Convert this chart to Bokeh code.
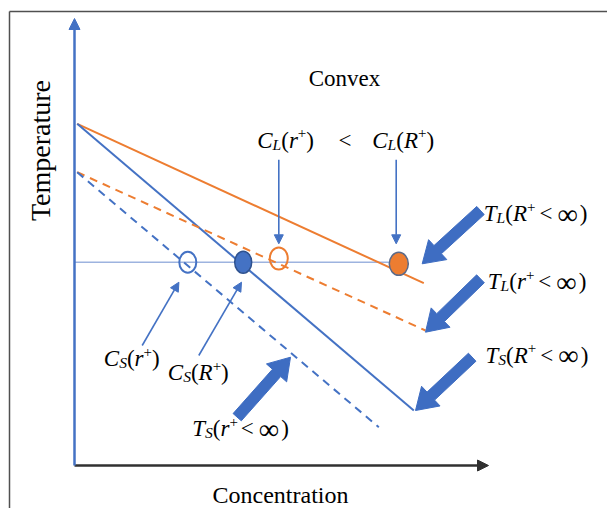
import numpy as np
from bokeh.plotting import figure
from bokeh.models import Range1d, Arrow, NormalHead
from bokeh.core.properties import value
from bokeh.embed import file_html
from bokeh.resources import INLINE

# ---------------- data (concentration, temperature) in chart units ----------------
# liquidus / solidus lines
tl_big_x = [2.7, 349.3];   tl_big_y = [341.7, 182.3]    # T_L(R+ < inf)  solid orange
ts_big_x = [2.7, 339.3];   ts_big_y = [341.7, 55.0]     # T_S(R+ < inf)  solid blue
tl_small_x = [2.7, 351.0]; tl_small_y = [293.3, 135.0]  # T_L(r+ < inf)  dashed orange
ts_small_x = [2.7, 304.3]; ts_small_y = [293.3, 38.3]   # T_S(r+ < inf)  dashed blue
tie_x = [0.0, 324.3];      tie_y = [203.3, 203.3]       # isotherm

# composition points on the isotherm
pt_x = [113.3, 168.7, 204.3, 324.3]
pt_y = [203.3, 203.3, 207.0, 201.7]
pt_fill = ["open_blue", "blue", "open_orange", "orange"]

# thin pointer arrows (start -> end)
thin_x0 = [204.3, 321.7, 67.7, 124.3]
thin_y0 = [305.7, 305.7, 120.0, 110.0]
thin_x1 = [204.3, 321.7, 104.4, 167.0]
thin_y1 = [221.7, 221.7, 183.3, 183.3]

# block arrows (tail -> tip)
blk_x0 = [406.0, 406.0, 397.7, 162.7]
blk_y0 = [255.0, 186.7, 108.3, 48.3]
blk_x1 = [347.7, 351.0, 341.0, 216.0]
blk_y1 = [201.7, 133.3, 55.0, 108.3]

# axes extents
x_axis_end = 414.0
y_axis_end = 447.0

# ---------------- figure ----------------
W, H = 607, 508
X0, Y0 = -74.0, -43.0
p = figure(width=W, height=H, output_backend="svg", toolbar_location=None,
           x_range=Range1d(X0, X0 + W), y_range=Range1d(Y0, Y0 + H),
           x_axis_type=None, y_axis_type=None, min_border=0,
           outline_line_color=None, background_fill_color="white")
p.xgrid.visible = False
p.ygrid.visible = False

BLUE = "#4472C4"
ORANGE = "#ED7D31"
TIE = "#9DB3DF"
BLK = "#3E6DC2"
FONT = "Liberation Serif"

# frame (top and left border of the image box)
p.line([X0 + 9, X0 + W], [Y0 + H - 11, Y0 + H - 11], line_color="#505050", line_width=1.5)
p.line([X0 + 9, X0 + 9], [Y0, Y0 + H - 11], line_color="#505050", line_width=1.5)

# isotherm
p.line(tie_x, tie_y, line_color=TIE, line_width=1.5)

# lines
p.line(tl_big_x, tl_big_y, line_color=ORANGE, line_width=2)
p.line(ts_big_x, ts_big_y, line_color=BLUE, line_width=2)
p.line(tl_small_x, tl_small_y, line_color=ORANGE, line_width=2, line_dash="8 6")
p.line(ts_small_x, ts_small_y, line_color=BLUE, line_width=2, line_dash="8 6")

# axes with arrows
p.add_layout(Arrow(end=NormalHead(size=11, fill_color="#303030", line_color="#303030"),
                   x_start=0, y_start=0, x_end=x_axis_end, y_end=0,
                   line_color="#303030", line_width=2.5))
p.add_layout(Arrow(end=NormalHead(size=11, fill_color=BLUE, line_color=BLUE),
                   x_start=0, y_start=0, x_end=0, y_end=y_axis_end,
                   line_color=BLUE, line_width=2.5))

# points
for x, y, f in zip(pt_x, pt_y, pt_fill):
    if f == "open_blue":
        p.ellipse(x=[x], y=[y], width=17, height=21, fill_alpha=0, line_color=BLUE, line_width=2)
    elif f == "open_orange":
        p.ellipse(x=[x], y=[y], width=18, height=22, fill_alpha=0, line_color=ORANGE, line_width=2)
    elif f == "blue":
        p.ellipse(x=[x], y=[y], width=17, height=22, fill_color=BLUE, line_color="#2F528F", line_width=1.5)
    else:
        p.ellipse(x=[x], y=[y], width=19, height=23, fill_color=ORANGE, line_color="#5A6A8A", line_width=1.5)

# thin arrows
for a, b, c, d in zip(thin_x0, thin_y0, thin_x1, thin_y1):
    p.add_layout(Arrow(end=NormalHead(size=9, fill_color=BLUE, line_color=BLUE),
                       x_start=a, y_start=b, x_end=c, y_end=d,
                       line_color=BLUE, line_width=1.6))

# block arrows as polygons
def block(x0, y0, x1, y1, w=11.0, hw=27.0, hl=21.0):
    t = np.array([x0, y0]); h = np.array([x1, y1])
    u = (h - t) / np.linalg.norm(h - t)
    n = np.array([-u[1], u[0]])
    b = h - u * hl
    pts = [t + n * w / 2, b + n * w / 2, b + n * hw / 2, h,
           b - n * hw / 2, b - n * w / 2, t - n * w / 2]
    return [q[0] for q in pts], [q[1] for q in pts]

bx, by = [], []
for a, b, c, d in zip(blk_x0, blk_y0, blk_x1, blk_y1):
    xs, ys = block(a, b, c, d)
    bx.append(xs); by.append(ys)
p.patches(bx, by, fill_color=BLK, line_color=BLK, line_width=1)

# ---------------- rich text helper ----------------
TY = 7.0  # baseline correction for the svg text
ADV = {'(': .333, ')': .333, '+': .564, '<': .564, '\u221e': .78,
       'C': .667, 'L': .556, 'S': .5, 'T': .556, 'R': .611, 'r': .389}

def rich(x0, y0, runs, fs):
    x = x0
    for t, kind in runs:
        if kind == "gap":
            x += t
            continue
        if kind == "sub":
            s, dy, st = fs * 0.68, -fs * 0.18, "italic"
        elif kind == "sup":
            s, dy, st = fs * 0.65, fs * 0.3, "normal"
        elif kind == "it":
            s, dy, st = fs, 0.0, "italic"
        elif kind == "big":
            s, dy, st = fs * 1.25, 0.0, "normal"
        else:
            s, dy, st = fs, 0.0, "normal"
        p.text(x=[x], y=[y0 + dy + TY], text=[t], text_font=value(FONT),
               text_font_size=f"{s:.1f}px", text_font_style=st,
               text_align="left", text_baseline="alphabetic", text_color="black")
        x += sum(ADV.get(ch, .5) for ch in t) * s

FS = 23
INF = "\u221e"
def tail(): return [("<", "n"), (5, "gap"), (INF, "big"), (")", "n")]

rich(182.7, 318.3, [("C", "it"), ("L", "sub"), ("(", "n"), ("r", "it"), ("+", "sup"), (")", "n")], FS)
rich(264.0, 318.3, [("<", "n")], FS)
rich(297.7, 318.3, [("C", "it"), ("L", "sub"), ("(", "n"), ("R", "it"), ("+", "sup"), (")", "n")], FS)

rich(409.3, 245.0, [("T", "it"), ("L", "sub"), ("(", "n"), ("R", "it"), ("+", "sup"), (4, "gap")] + tail(), FS)
rich(413.3, 176.7, [("T", "it"), ("L", "sub"), ("(", "n"), ("r", "it"), ("+", "sup"), (4, "gap")] + tail(), FS)
rich(411.0, 103.3, [("T", "it"), ("S", "sub"), ("(", "n"), ("R", "it"), ("+", "sup"), (4, "gap")] + tail(), FS)

rich(29.3, 100.0, [("C", "it"), ("S", "sub"), ("(", "n"), ("r", "it"), ("+", "sup"), (")", "n")], FS)
rich(93.3, 85.7, [("C", "it"), ("S", "sub"), ("(", "n"), ("R", "it"), ("+", "sup"), (")", "n")], FS)
rich(117.7, 30.0, [("T", "it"), ("S", "sub"), ("(", "n"), ("r", "it"), ("+", "sup"), (3, "gap")] + tail(), FS)

# titles
p.text(x=[270], y=[380 + TY], text=["Convex"], text_font=value(FONT), text_font_size="23px",
       text_align="center", text_baseline="alphabetic", text_color="black")
p.text(x=[206], y=[-36 + TY], text=["Concentration"], text_font=value(FONT), text_font_size="24px",
       text_align="center", text_baseline="alphabetic", text_color="black")
p.text(x=[-27 - TY], y=[315], text=["Temperature"], text_font=value(FONT), text_font_size="28px",
       angle=np.pi / 2, text_align="center", text_baseline="alphabetic", text_color="black")

open("out.html", "w").write(file_html(p, INLINE))
